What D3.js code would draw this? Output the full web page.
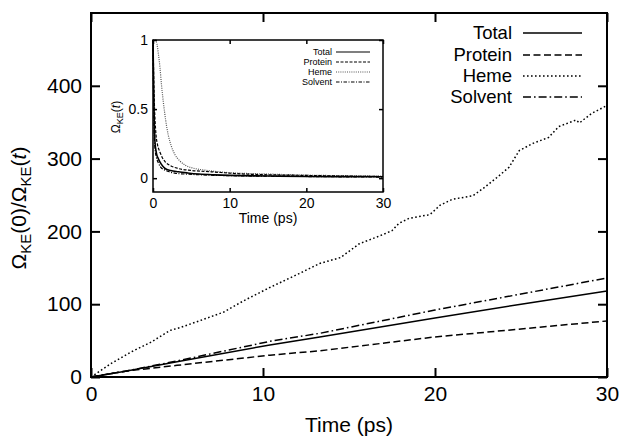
<!DOCTYPE html>
<html>
<head>
<meta charset="utf-8">
<script src="https://cdn.jsdelivr.net/npm/d3@7"></script>
<style>
  body { margin: 0; background: #fff; }
  svg { display: block; font-family: "Liberation Sans", Arial, sans-serif; }
</style>
</head>
<body>
<div id="chart"></div>
<script>
// main panel: Omega_KE(0)/Omega_KE(t) vs time
const seriesNames = ["Total", "Protein", "Heme", "Solvent"];

const totalT = [0, 2, 5, 10.4, 13.3, 20, 25, 30];
const totalV = [0, 8, 21, 44, 55, 81, 100, 118];
const proteinT = [0, 2, 5, 10.4, 13.3, 20, 25, 30];
const proteinV = [0, 8, 16, 30, 36, 55, 66, 77];
const solventT = [0, 2, 5, 10.4, 13.3, 20, 25, 30];
const solventV = [0, 8, 22, 49, 60, 92, 114, 136];
const hemeT = [0, 1.2, 2.3, 3.5, 4.6, 5.2, 6.4, 7.7, 8.9, 10.4, 12.1, 13.3, 14.5, 15.6, 16.8, 17.5,
  17.9, 18.5, 19.7, 20.3, 21, 22.2, 22.8, 23.6, 24.3, 24.9, 25.7, 26.6, 27.2, 28.2, 28.4, 29.1, 30];
const hemeV = [0, 19, 34, 48, 64, 68, 78, 89, 105, 123, 142, 156, 164, 183, 194, 201,
  211, 218, 223, 236, 244, 249, 259, 274, 288, 311, 321, 329, 344, 353, 349, 362, 373];

const xTicks = [0, 10, 20, 30];
const yTicks = [0, 100, 200, 300, 400];

// inset: Omega_KE(t) decay
const inTotalT = [0, 0.05, 0.1, 0.18, 0.26, 0.45, 0.7, 1.1, 1.57, 2.3, 3.3, 4.5, 6, 8, 10, 15, 20, 25, 30];
const inTotalV = [1, 0.8, 0.6, 0.38, 0.26, 0.18, 0.14, 0.1, 0.07, 0.055, 0.046, 0.038, 0.03, 0.024, 0.02, 0.016, 0.012, 0.011, 0.01];
const inProteinT = [0, 0.07, 0.15, 0.25, 0.4, 0.6, 0.9, 1.2, 1.57, 2.3, 3.3, 5, 7.6, 12, 20, 25, 30];
const inProteinV = [1, 0.8, 0.6, 0.44, 0.31, 0.24, 0.19, 0.15, 0.12, 0.09, 0.07, 0.056, 0.046, 0.03, 0.02, 0.015, 0.012];
const inHemeT = [0, 0.3, 0.52, 0.7, 0.91, 1.1, 1.35, 1.65, 2, 2.4, 2.87, 3.5, 4.2, 5.3, 6.8, 10, 15, 20, 25, 30];
const inHemeV = [1, 1, 0.97, 0.9, 0.8, 0.68, 0.55, 0.42, 0.31, 0.23, 0.17, 0.125, 0.094, 0.072, 0.058, 0.04, 0.03, 0.022, 0.018, 0.015];
const inSolventT = [0, 0.04, 0.08, 0.15, 0.25, 0.45, 0.7, 1, 1.5, 2.2, 3, 4.5, 6, 10, 20, 30];
const inSolventV = [1, 0.75, 0.55, 0.35, 0.22, 0.15, 0.11, 0.08, 0.06, 0.045, 0.035, 0.029, 0.025, 0.018, 0.012, 0.008];

const inXTicks = [0, 10, 20, 30];
const inYTicks = [0, 0.5, 1];

const dashes = { Total: null, Protein: "7,3.5", Heme: "1.6,2.4", Solvent: "8,3,1.6,3" };

const W = 620, H = 437;
const svg = d3.select("#chart").append("svg").attr("width", W).attr("height", H);

const m = { left: 91, right: 607, top: 13, bottom: 377 };
const x = d3.scaleLinear().domain([0, 30]).range([m.left, m.right]);
const y = d3.scaleLinear().domain([0, 500]).range([m.bottom, m.top]);

function pts(ts, vs) { return ts.map((t, i) => [t, vs[i]]); }

const mainData = [
  { name: "Total", pts: pts(totalT, totalV) },
  { name: "Protein", pts: pts(proteinT, proteinV) },
  { name: "Heme", pts: pts(hemeT, hemeV) },
  { name: "Solvent", pts: pts(solventT, solventV) }
];

const line = d3.line().x(d => x(d[0])).y(d => y(d[1]));
svg.append("g").selectAll("path").data(mainData).enter().append("path")
  .attr("d", d => line(d.pts))
  .attr("fill", "none")
  .attr("stroke", "#000")
  .attr("stroke-width", 1.5)
  .attr("stroke-dasharray", d => dashes[d.name]);

// axes with inward, mirrored ticks
function frame(g, xs, ys, xt, yt, tl, fmtY, fs, sw, padX, padY) {
  g.append("g").attr("transform", `translate(0,${ys.range()[0]})`)
    .call(d3.axisBottom(xs).tickValues(xt).tickSizeInner(-tl).tickSizeOuter(0).tickPadding(padX));
  g.append("g").attr("transform", `translate(0,${ys.range()[1]})`)
    .call(d3.axisTop(xs).tickValues(xt).tickSizeInner(-tl).tickSizeOuter(0).tickFormat(""));
  g.append("g").attr("transform", `translate(${xs.range()[0]},0)`)
    .call(d3.axisLeft(ys).tickValues(yt).tickSizeInner(-tl).tickSizeOuter(0).tickPadding(padY).tickFormat(fmtY));
  g.append("g").attr("transform", `translate(${xs.range()[1]},0)`)
    .call(d3.axisRight(ys).tickValues(yt).tickSizeInner(-tl).tickSizeOuter(0).tickFormat(""));
  g.selectAll(".domain").remove();
  g.selectAll(".tick line").attr("stroke", "#000").attr("stroke-width", sw);
  g.selectAll(".tick text").attr("fill", "#000").style("font-size", fs + "px")
    .style("font-family", "Liberation Sans, Arial, sans-serif");
  g.append("rect")
    .attr("x", xs.range()[0]).attr("y", ys.range()[1])
    .attr("width", xs.range()[1] - xs.range()[0]).attr("height", ys.range()[0] - ys.range()[1])
    .attr("fill", "none").attr("stroke", "#000").attr("stroke-width", sw);
}

const axes = svg.append("g");
frame(axes, x, y, xTicks, yTicks, 9, d3.format("d"), 21, 2, 9, 9);

// axis titles
svg.append("text").attr("x", (m.left + m.right) / 2).attr("y", 432)
  .attr("text-anchor", "middle").style("font-size", "21px").text("Time (ps)");

const yl = svg.append("text").attr("transform", "translate(26,208) rotate(-90)")
  .attr("text-anchor", "middle").style("font-size", "21px");
yl.append("tspan").text("Ω");
yl.append("tspan").attr("dy", 5).style("font-size", "15px").text("KE");
yl.append("tspan").attr("dy", -5).text("(0)/Ω");
yl.append("tspan").attr("dy", 5).style("font-size", "15px").text("KE");
yl.append("tspan").attr("dy", -5).text("(");
yl.append("tspan").style("font-style", "italic").text("t");
yl.append("tspan").text(")");

// main legend
const leg = svg.append("g");
const legY = [33, 55, 76, 97];
seriesNames.forEach((n, i) => {
  leg.append("text").attr("x", 512).attr("y", legY[i]).attr("dy", "0.35em")
    .attr("text-anchor", "end").style("font-size", "18.5px").text(n);
  leg.append("line").attr("x1", 523).attr("x2", 582).attr("y1", legY[i]).attr("y2", legY[i])
    .attr("stroke", "#000").attr("stroke-width", 1.5).attr("stroke-dasharray", dashes[n]);
});

// inset
const im = { left: 153, right: 383, top: 40, bottom: 192 };
const ix = d3.scaleLinear().domain([0, 30]).range([im.left, im.right]);
const iy = d3.scaleLinear().domain([-0.1, 1]).range([im.bottom, im.top]);

const inset = svg.append("g");
inset.append("rect").attr("x", im.left).attr("y", im.top)
  .attr("width", im.right - im.left).attr("height", im.bottom - im.top).attr("fill", "#fff");

const inData = [
  { name: "Heme", pts: pts(inHemeT, inHemeV) },
  { name: "Protein", pts: pts(inProteinT, inProteinV) },
  { name: "Solvent", pts: pts(inSolventT, inSolventV) },
  { name: "Total", pts: pts(inTotalT, inTotalV) }
];
const inDash = { Total: null, Protein: "3,1.5", Heme: "1,1.2", Solvent: "3.5,1.5,1,1.5" };
const inColor = { Total: "#000", Protein: "#000", Heme: "#555", Solvent: "#000" };

const iline = d3.line().curve(d3.curveMonotoneX).x(d => ix(d[0])).y(d => iy(d[1]));
inset.append("g").selectAll("path").data(inData).enter().append("path")
  .attr("d", d => iline(d.pts))
  .attr("fill", "none")
  .attr("stroke", d => inColor[d.name])
  .attr("stroke-width", d => d.name === "Total" ? 1.6 : 1.2)
  .attr("stroke-dasharray", d => inDash[d.name]);

frame(inset, ix, iy, inXTicks, inYTicks, 4, d => d === 0.5 ? "0.5" : d3.format("d")(d), 14, 1.5, 6, 5);

inset.append("text").attr("x", (im.left + im.right) / 2).attr("y", 223)
  .attr("text-anchor", "middle").style("font-size", "14px").text("Time (ps)");

const iyl = inset.append("text").attr("transform", "translate(120,117) rotate(-90)")
  .attr("text-anchor", "middle").style("font-size", "12px");
iyl.append("tspan").text("Ω");
iyl.append("tspan").attr("dy", 3).style("font-size", "9px").text("KE");
iyl.append("tspan").attr("dy", -3).text("(");
iyl.append("tspan").style("font-style", "italic").text("t");
iyl.append("tspan").text(")");

const iLegY = [52, 62, 72, 82];
seriesNames.forEach((n, i) => {
  inset.append("text").attr("x", 332).attr("y", iLegY[i]).attr("dy", "0.35em")
    .attr("text-anchor", "end").style("font-size", "9px").text(n);
  inset.append("line").attr("x1", 336).attr("x2", 370).attr("y1", iLegY[i]).attr("y2", iLegY[i])
    .attr("stroke", inColor[n]).attr("stroke-width", 1.2).attr("stroke-dasharray", inDash[n]);
});
</script>
</body>
</html>
